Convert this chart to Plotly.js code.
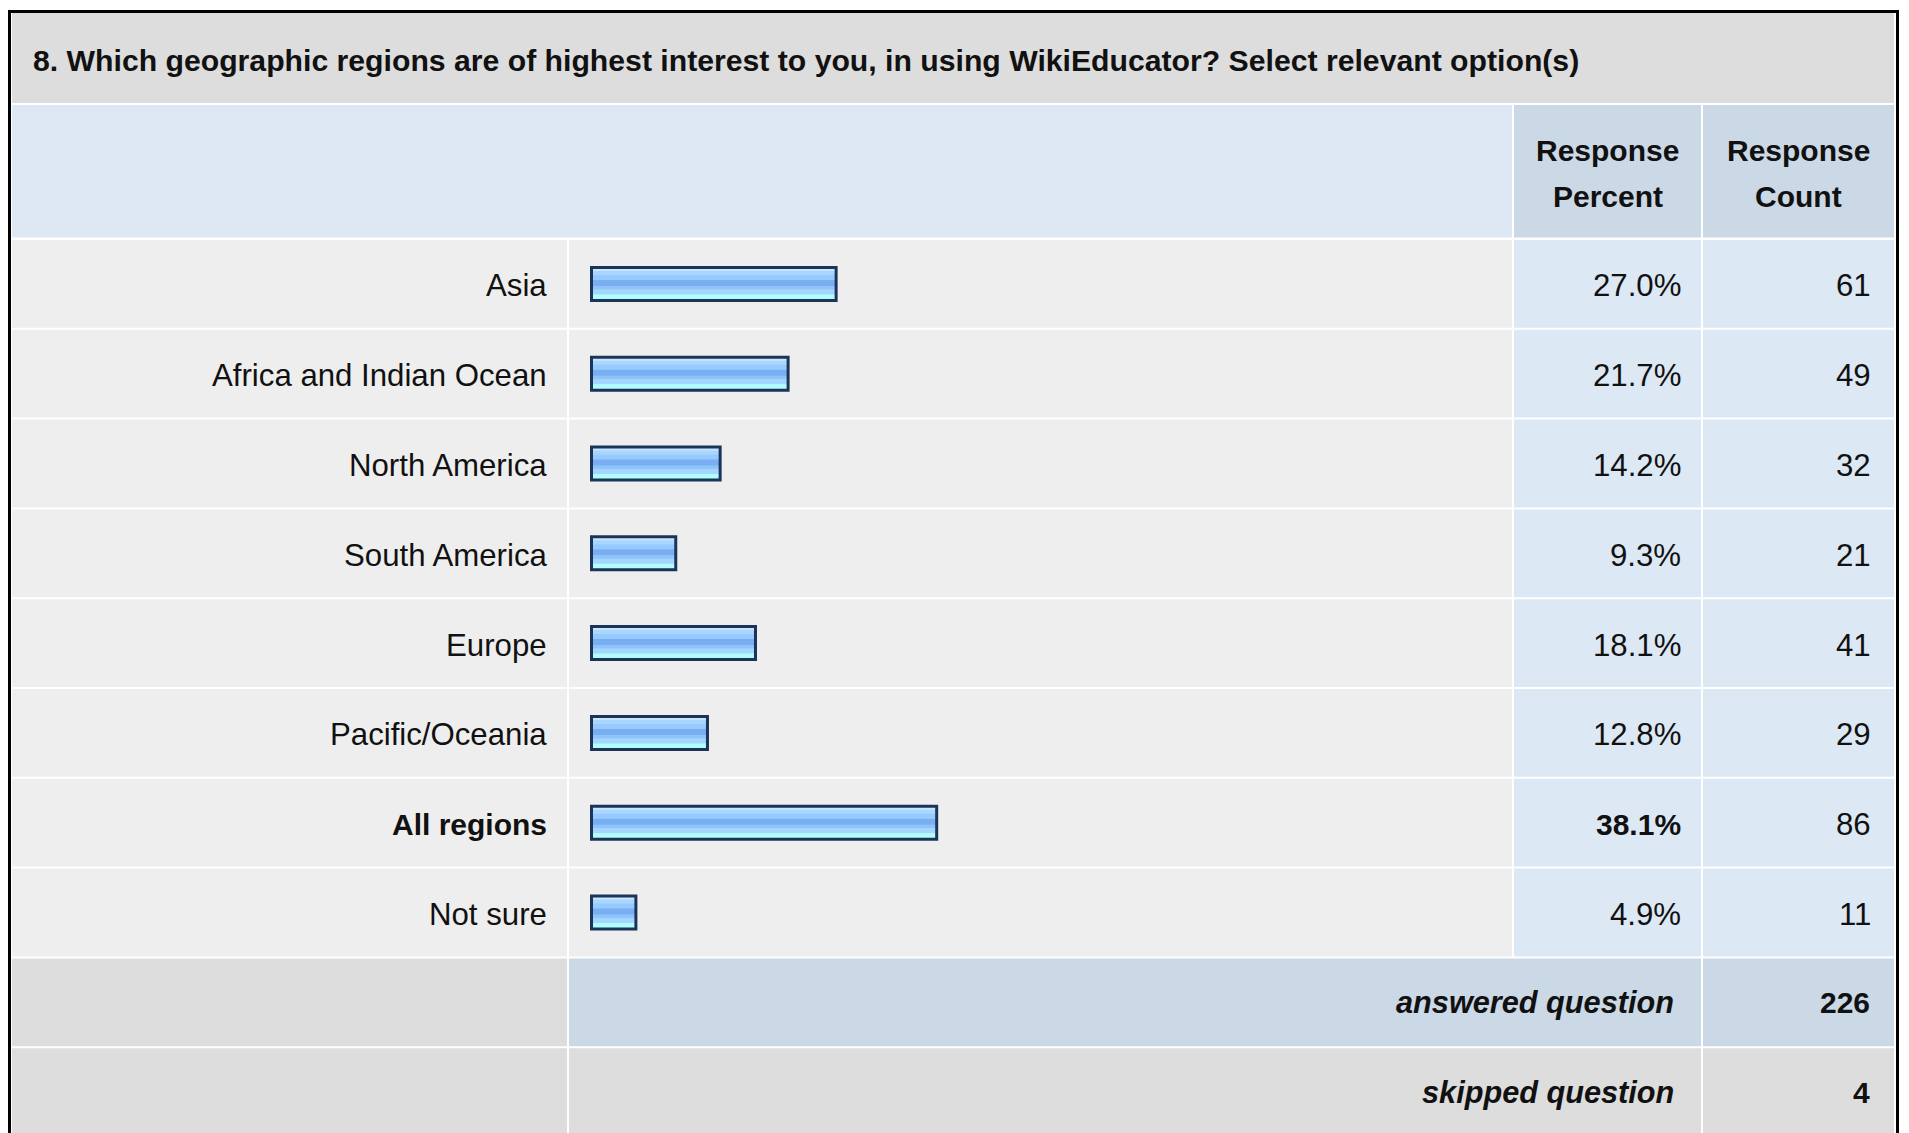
<!DOCTYPE html>
<html>
<head>
<meta charset="utf-8">
<script src="https://cdn.plot.ly/plotly-3.0.1.min.js"></script>
<style>
  html, body { margin: 0; padding: 0; background: #ffffff; }
  #chart { width: 1909px; height: 1133px; }
</style>
</head>
<body>
<div id="chart"></div>
<script>
// ---------- data ----------
const titleText = '8. Which geographic regions are of highest interest to you, in using WikiEducator? Select relevant option(s)';
const headerPercent = ['Response', 'Percent'];
const headerCount = ['Response', 'Count'];
const regions = ['Asia', 'Africa and Indian Ocean', 'North America', 'South America', 'Europe', 'Pacific/Oceania', 'All regions', 'Not sure'];
const percents = [27.0, 21.7, 14.2, 9.3, 18.1, 12.8, 38.1, 4.9];
const counts = [61, 49, 32, 21, 41, 29, 86, 11];
const boldRegions = ['All regions'];
const footerLabels = ['answered question', 'skipped question'];
const footerValues = [226, 4];

// ---------- geometry / style ----------
const W = 1909, H = 1133;
const PITCH = 89.8, C0 = 283.9;          // row pitch and centre of first row (px)
const X0PX = 591.5, XS = 9.06;           // px of 0% and px per 1%
const v = py => (py - C0) / PITCH;       // px (vertical) -> row units
const xp = px => px / W;                 // px (horizontal) -> paper
const FONT = 'Liberation Sans, Arial, Helvetica, sans-serif';
const FS_B = 30, FS_R = 31.2, FS_T = 30.2, FS_F = 30.7;
const TXT = '#111111';
const ROW_DY = 2 / PITCH;

const COL = { lab0: 12, lab1: 567, bar0: 569, bar1: 1512, pc0: 1514, pc1: 1701, ct0: 1703, ct1: 1894 };
const HALF = 43.9 / PITCH;

const shapes = [];
function cell(x0, x1, y0, y1, color) {
  shapes.push({ type: 'rect', layer: 'below', xref: 'paper', yref: 'y',
    x0: xp(x0), x1: xp(x1), y0: y0, y1: y1, fillcolor: color, line: { width: 0 } });
}
// title band
cell(COL.lab0, COL.ct1, v(13), v(103), '#dddddd');
// header band
cell(COL.lab0, COL.bar1, v(105), v(237.5), '#dde8f4');
cell(COL.pc0, COL.pc1, v(105), v(237.5), '#cbd8e6');
cell(COL.ct0, COL.ct1, v(105), v(237.5), '#cbd8e6');
// data rows
regions.forEach((r, i) => {
  cell(COL.lab0, COL.lab1, i - HALF, i + HALF, '#eeeeee');
  cell(COL.bar0, COL.bar1, i - HALF, i + HALF, '#eeeeee');
  cell(COL.pc0, COL.pc1, i - HALF, i + HALF, '#dde8f5');
  cell(COL.ct0, COL.ct1, i - HALF, i + HALF, '#dde8f5');
});
// footer rows
const fA = regions.length, fS = regions.length + 1;
cell(COL.lab0, COL.lab1, fA - HALF, fA + HALF, '#dddddd');
cell(COL.bar0, COL.pc1, fA - HALF, fA + HALF, '#cbd8e6');
cell(COL.ct0, COL.ct1, fA - HALF, fA + HALF, '#cbd8e6');
cell(COL.lab0, COL.lab1, fS - HALF, fS + HALF, '#dddddd');
cell(COL.bar0, COL.pc1, fS - HALF, fS + HALF, '#dddddd');
cell(COL.ct0, COL.ct1, fS - HALF, fS + HALF, '#dddddd');
// outer black frame
shapes.push({ type: 'rect', layer: 'above', xref: 'paper', yref: 'y',
  x0: xp(9.5), x1: xp(1897.5), y0: v(11.5), y1: v(1160),
  fillcolor: 'rgba(0,0,0,0)', line: { color: '#000000', width: 3 } });

// ---------- bars: stripes + outline ----------
const BAR_MID = 18;
const stripes = [
  [1.5, 5.5, '#c8e5ff'],
  [5, 9.5, '#a9d6ff'],
  [9, 14.5, '#97cbff'],
  [14, 20.5, '#79aef2'],
  [20, 24, '#8fc4fb'],
  [23.5, 29, '#a3d7ff'],
  [28.5, 34.5, '#b2fdff']
];
const traces = stripes.map(s => ({
  type: 'bar', orientation: 'h', x: percents, y: regions,
  width: (s[1] - s[0]) / PITCH, offset: (s[0] - BAR_MID) / PITCH,
  marker: { color: s[2], line: { width: 0 } },
  hoverinfo: 'skip', showlegend: false
}));
traces.push({
  type: 'bar', orientation: 'h', x: percents, y: regions,
  width: 33 / PITCH,
  marker: { color: 'rgba(0,0,0,0)', line: { color: '#1b3458', width: 3 } },
  hoverinfo: 'skip', showlegend: false
});

// ---------- texts ----------
const ann = [];
function txt(text, xpx, y, anchor, size) {
  ann.push({ xref: 'paper', yref: 'y', x: xp(xpx), y: y, text: text,
    xanchor: anchor, yanchor: 'middle', showarrow: false,
    font: { family: FONT, size: size, color: TXT } });
}
txt('<b>' + titleText + '</b>', 31, v(60), 'left', FS_T);
txt('<b>' + headerPercent[0] + '</b>', (COL.pc0 + COL.pc1) / 2, v(150), 'center', FS_B);
txt('<b>' + headerPercent[1] + '</b>', (COL.pc0 + COL.pc1) / 2, v(196), 'center', FS_B);
txt('<b>' + headerCount[0] + '</b>', (COL.ct0 + COL.ct1) / 2, v(150), 'center', FS_B);
txt('<b>' + headerCount[1] + '</b>', (COL.ct0 + COL.ct1) / 2, v(196), 'center', FS_B);
regions.forEach((r, i) => {
  const b = boldRegions.includes(r);
  const y = i + ROW_DY;
  txt(b ? '<b>' + r + '</b>' : r, 549, y, 'right', b ? FS_B : FS_R);
  const p = percents[i].toFixed(1) + '%';
  txt(b ? '<b>' + p + '</b>' : p, 1683, y, 'right', b ? FS_B : FS_R);
  txt(String(counts[i]), 1873, y, 'right', FS_R);
});
footerLabels.forEach((f, k) => {
  const row = regions.length + k;
  txt('<b><i>' + f + '</i></b>', 1676, row, 'right', FS_F);
  txt('<b>' + footerValues[k] + '</b>', 1872, row, 'right', FS_B);
});

const layout = {
  width: W, height: H,
  margin: { l: 0, r: 0, t: 0, b: 0, pad: 0 },
  paper_bgcolor: '#ffffff', plot_bgcolor: 'rgba(0,0,0,0)',
  barmode: 'overlay', showlegend: false,
  xaxis: { range: [-X0PX / XS, (W - X0PX) / XS], visible: false, fixedrange: true },
  yaxis: { type: 'category', categoryarray: regions, categoryorder: 'array',
           range: [v(H), v(0)], visible: false, fixedrange: true },
  shapes: shapes, annotations: ann
};
Plotly.newPlot('chart', traces, layout, { displayModeBar: false, staticPlot: true });
</script>
</body>
</html>
